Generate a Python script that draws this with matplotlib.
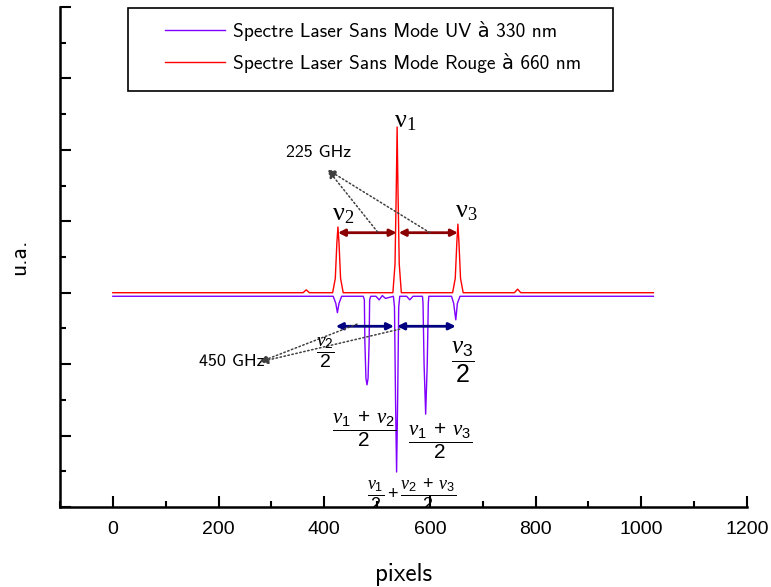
import matplotlib
matplotlib.use('Agg')
import matplotlib.pyplot as plt
from matplotlib.patches import Rectangle
from matplotlib.ticker import MultipleLocator

plt.rcParams['mathtext.fontset'] = 'custom'
plt.rcParams['mathtext.rm'] = 'Liberation Sans'
plt.rcParams['mathtext.it'] = 'Liberation Serif:italic'

# red spectrum (660 nm)
red_x = [0, 360, 366, 372, 416, 421, 424, 426, 428, 431, 436, 530, 534, 536.5, 538, 539.5, 542, 546,
         643, 648, 651, 653, 655, 658, 663, 760, 766, 772, 1023]
red_y = [3.0, 3.0, 3.04, 3.0, 3.0, 3.2, 3.7, 3.92, 3.7, 3.2, 3.0, 3.0, 3.4, 4.5, 5.32, 4.5, 3.4, 3.0,
         3.0, 3.2, 3.7, 3.96, 3.7, 3.2, 3.0, 3.0, 3.05, 3.0, 3.0]

# UV spectrum (330 nm)
uv_x = [0, 417, 422, 425, 428, 433, 474, 476, 477, 479, 481, 483, 485, 486, 488, 498, 504, 510, 516,
        531, 533, 535, 537, 539, 541, 543, 556, 562, 568, 586, 587, 589, 592, 595, 597, 598,
        641, 645, 649, 652, 657, 1023]
uv_y = [2.95, 2.95, 2.85, 2.72, 2.85, 2.95, 2.95, 2.9, 2.3, 1.8, 1.71, 1.8, 2.3, 2.9, 2.95, 2.95, 2.9, 2.96, 2.92,
        2.95, 2.8, 1.5, 0.49, 1.5, 2.8, 2.95, 2.95, 2.9, 2.95, 2.95, 2.85, 2.0, 1.30, 2.0, 2.85, 2.95,
        2.95, 2.85, 2.62, 2.85, 2.95, 2.95]

labels = ['Spectre Laser Sans Mode UV à 330 nm', 'Spectre Laser Sans Mode Rouge à 660 nm']

# separation arrows
red_arrows = [(426, 537), (541, 653)]
red_arrow_y = 3.84
blue_arrows = [(422, 532), (538, 649)]
blue_arrow_y = 2.53

sans = ['cmss10', 'DejaVu Sans']

fig = plt.figure(figsize=(7.71, 5.87), dpi=100)
ax = fig.add_axes([0.0778, 0.1363, 0.891, 0.8518])

l1, = ax.plot(uv_x, uv_y, color='#8000ff', linewidth=1.0)
l2, = ax.plot(red_x, red_y, color='#ff0000', linewidth=1.0)

ax.set_xlim(-100, 1200)
ax.set_ylim(0, 7)
ax.xaxis.set_major_locator(MultipleLocator(200))
ax.xaxis.set_minor_locator(MultipleLocator(100))
ax.yaxis.set_major_locator(MultipleLocator(1))
ax.yaxis.set_minor_locator(MultipleLocator(0.5))
ax.set_yticklabels([])
ax.tick_params(which='both', direction='in', width=1.5)
ax.tick_params(which='major', length=8)
ax.tick_params(which='minor', length=4.5)
ax.tick_params(axis='x', pad=10, labelsize=14)
for t in ax.get_xticklabels():
    t.set_family(['Liberation Sans Narrow', 'Liberation Sans'])
for s in ['top', 'right']:
    ax.spines[s].set_visible(False)
for s in ['left', 'bottom']:
    ax.spines[s].set_linewidth(1.8)

ax.set_xlabel('pixels', fontsize=18, family=sans, labelpad=18)
ax.set_ylabel('u.a.', fontsize=17, family=sans, labelpad=18)

# legend with square frame
ax.add_patch(Rectangle((0.099, 0.832), 0.706, 0.166, transform=ax.transAxes,
                       fill=False, edgecolor='black', linewidth=1.2, zorder=5))
ax.legend([l1, l2], labels, loc='upper left', bbox_to_anchor=(0.153, 0.972),
          frameon=False, prop={'family': sans, 'size': 14}, handlelength=3.1,
          handletextpad=0.4, labelspacing=0.6, borderpad=0, borderaxespad=0)

for a, b in red_arrows:
    ax.annotate('', xy=(b, red_arrow_y), xytext=(a, red_arrow_y),
                arrowprops=dict(arrowstyle='<|-|>', color='#8b0000', lw=2,
                                mutation_scale=10, shrinkA=0, shrinkB=0))
for a, b in blue_arrows:
    ax.annotate('', xy=(b, blue_arrow_y), xytext=(a, blue_arrow_y),
                arrowprops=dict(arrowstyle='<|-|>', color='#000080', lw=2,
                                mutation_scale=10, shrinkA=0, shrinkB=0))

dotted = dict(arrowstyle='-|>', linestyle=':', color='#404040', lw=1.1,
              mutation_scale=12, shrinkA=0, shrinkB=0)
ax.text(390, 4.96, '225 GHz', fontsize=13, family=sans, ha='center', va='center')
ax.annotate('', xy=(407, 4.72), xytext=(501, 3.85), arrowprops=dotted)
ax.annotate('', xy=(407, 4.72), xytext=(600, 3.84), arrowprops=dotted)
ax.text(225, 2.03, '450 GHz', fontsize=13, family=sans, ha='center', va='center')
ax.annotate('', xy=(278, 2.03), xytext=(462, 2.56), arrowprops=dotted)
ax.annotate('', xy=(278, 2.03), xytext=(543, 2.49), arrowprops=dotted)

serif = 'Liberation Serif'
ax.text(554, 5.39, r'ν$_\mathdefault{1}$', fontsize=19, family=serif, ha='center', va='center')
ax.text(435, 4.09, r'ν$_\mathdefault{2}$', fontsize=19, family=serif, ha='center', va='center')
ax.text(668, 4.13, r'ν$_\mathdefault{3}$', fontsize=19, family=serif, ha='center', va='center')

ax.text(403, 2.16, r'$\dfrac{\nu_2}{2}$', fontsize=14, ha='center', va='center')
ax.text(662, 2.03, r'$\dfrac{\nu_3}{2}$', fontsize=18, ha='center', va='center')
ax.text(475, 1.09, r'$\dfrac{\nu_1\;+\;\nu_2}{2}$', fontsize=15, ha='center', va='center')
ax.text(619, 0.92, r'$\dfrac{\nu_1\;+\;\nu_3}{2}$', fontsize=15, ha='center', va='center')
ax.text(566, 0.17, r'$\dfrac{\nu_1}{2}+\dfrac{\nu_2\;+\;\nu_3}{2}$', fontsize=13,
        ha='center', va='center', clip_on=True)

fig.savefig('out.png', dpi=100)
